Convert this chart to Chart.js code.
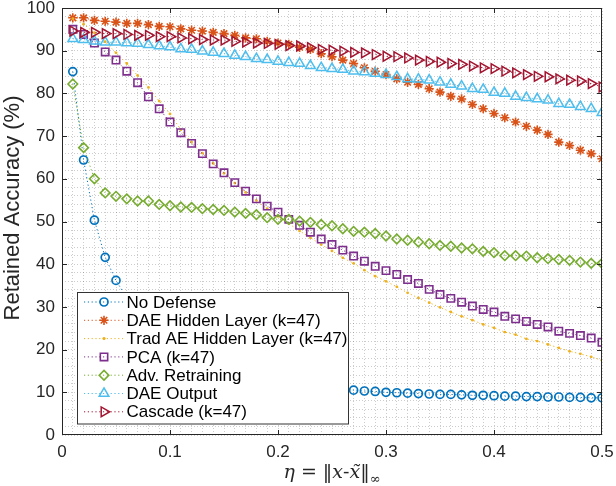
<!DOCTYPE html>
<html>
<head>
<meta charset="utf-8">
<title>Retained Accuracy</title>
<script src="https://cdn.jsdelivr.net/npm/chart.js@4.4.1/dist/chart.umd.min.js"></script>
<style>
    html, body { margin: 0; padding: 0; background: #ffffff; }
    #wrap { width: 616px; height: 486px; }
</style>
</head>
<body>
<div id="wrap"><canvas id="accuracy-chart" width="616" height="486"></canvas></div>
<script>
// perturbation size (x axis)
const etaValues = [0.01, 0.02, 0.03, 0.04, 0.05, 0.06, 0.07, 0.08, 0.09, 0.10,
                   0.11, 0.12, 0.13, 0.14, 0.15, 0.16, 0.17, 0.18, 0.19, 0.20,
                   0.21, 0.22, 0.23, 0.24, 0.25, 0.26, 0.27, 0.28, 0.29, 0.30,
                   0.31, 0.32, 0.33, 0.34, 0.35, 0.36, 0.37, 0.38, 0.39, 0.40,
                   0.41, 0.42, 0.43, 0.44, 0.45, 0.46, 0.47, 0.48, 0.49, 0.50];

// retained accuracy (%) per defense
const noDefense = [85.1, 64.4, 50.3, 41.6, 36.2, 32.1, 29.4, 26.8, 24.7, 22.8,
                   21.2, 19.5, 18.5, 17.3, 16.3, 15.5, 14.6, 13.8, 13.4, 13.0,
                   12.4, 12.1, 11.6, 11.4, 11.1, 10.8, 10.5, 10.3, 10.2, 10.0,
                   9.9, 9.8, 9.7, 9.6, 9.5, 9.5, 9.4, 9.3, 9.3, 9.2,
                   9.1, 9.1, 9.0, 9.0, 8.9, 8.9, 8.8, 8.8, 8.7, 8.7];
const daeHidden = [97.7, 97.7, 97.1, 96.9, 96.7, 96.4, 96.4, 96.1, 95.7, 95.6,
                   95.1, 94.8, 94.6, 94.3, 94.0, 93.6, 93.0, 92.8, 92.2, 91.8,
                   91.5, 90.8, 90.3, 89.3, 88.6, 87.8, 87.0, 86.0, 85.2, 84.4,
                   83.4, 82.6, 82.1, 81.1, 80.3, 79.3, 78.7, 77.4, 76.4, 75.3,
                   74.3, 73.3, 72.3, 71.4, 70.4, 68.6, 67.8, 66.7, 65.9, 64.7];
const tradAeHidden = [97.5, 96.2, 94.2, 92.1, 89.5, 87.0, 84.2, 81.4, 78.2, 75.2,
                      71.5, 68.6, 66.0, 63.6, 61.3, 59.0, 56.8, 54.9, 53.0, 51.2,
                      49.5, 47.8, 46.2, 44.6, 43.1, 41.5, 40.2, 38.6, 37.2, 36.0,
                      34.7, 33.3, 32.1, 31.0, 29.9, 28.8, 27.8, 26.9, 25.9, 25.1,
                      24.1, 23.5, 22.5, 22.0, 21.2, 20.4, 19.6, 19.0, 18.3, 17.5];
const pca = [95.0, 93.8, 91.8, 89.7, 87.8, 85.2, 82.5, 79.2, 76.4, 73.3,
             70.8, 68.3, 65.9, 63.5, 61.4, 59.1, 57.1, 55.3, 53.6, 52.2,
             50.5, 49.1, 47.5, 45.9, 44.6, 43.3, 41.9, 40.7, 39.5, 38.5,
             37.6, 36.4, 35.5, 34.1, 32.9, 32.0, 31.1, 30.2, 29.4, 28.8,
             27.8, 27.2, 26.6, 25.9, 25.3, 24.3, 23.8, 23.3, 22.7, 21.7];
const advRetraining = [82.2, 67.3, 60.0, 56.7, 55.9, 55.3, 54.8, 54.8, 54.0, 53.7,
                       53.4, 53.3, 53.0, 52.8, 52.6, 52.2, 51.9, 51.6, 50.9, 50.5,
                       50.5, 50.1, 49.8, 49.3, 49.0, 48.3, 47.7, 47.5, 47.2, 46.6,
                       45.9, 45.6, 45.2, 44.8, 44.4, 44.2, 43.8, 43.6, 43.0, 42.7,
                       42.0, 42.0, 41.9, 41.5, 41.3, 41.1, 40.9, 40.5, 40.2, 40.2];
const daeOutput = [92.8, 92.6, 92.2, 92.0, 92.0, 91.8, 91.7, 91.4, 91.1, 90.9,
                   90.4, 90.3, 89.9, 89.6, 89.3, 88.9, 88.6, 88.1, 87.9, 87.5,
                   87.2, 87.0, 86.5, 86.0, 85.8, 85.6, 85.2, 85.0, 84.7, 84.4,
                   83.9, 83.4, 83.3, 83.1, 82.6, 82.1, 81.7, 81.1, 80.9, 80.2,
                   80.0, 79.3, 79.0, 78.7, 78.4, 77.6, 77.4, 76.9, 76.4, 75.5];
const cascade = [94.6, 94.3, 94.3, 94.0, 94.0, 93.8, 93.6, 93.6, 93.3, 93.3,
                 93.0, 92.8, 92.6, 92.5, 92.5, 92.2, 92.0, 91.8, 91.7, 91.5,
                 91.2, 91.1, 90.7, 90.3, 90.1, 89.9, 89.6, 89.5, 89.1, 88.7,
                 88.6, 88.3, 87.8, 87.5, 87.3, 87.0, 86.8, 86.4, 86.0, 85.8,
                 85.2, 84.8, 84.4, 84.0, 83.9, 83.4, 83.1, 82.9, 82.3, 81.5];

const seriesLabels = ['No Defense', 'DAE Hidden Layer (k=47)', 'Trad AE Hidden Layer (k=47)',
                      'PCA (k=47)', 'Adv. Retraining', 'DAE Output', 'Cascade (k=47)'];

const FONT = '"Liberation Sans", Arial, Helvetica, sans-serif';
const AXIS_COLOR = '#262626';

function toPoints(values) {
    return etaValues.map((x, i) => ({ x: x, y: values[i] }));
}

function makeDataset(idx, values, color, marker) {
    return {
        label: seriesLabels[idx],
        data: toPoints(values),
        borderColor: color,
        backgroundColor: color,
        borderWidth: 1,
        borderDash: [1.2, 2.6],
        pointStyle: marker.style,
        pointRadius: marker.radius,
        pointRotation: marker.rotation || 0,
        pointBorderWidth: marker.width,
        pointBorderColor: color,
        pointBackgroundColor: marker.fill ? color : 'rgba(0,0,0,0)',
        tension: 0,
        fill: false,
        order: 6 - idx   // later series drawn on top, like the original
    };
}

const datasets = [
    makeDataset(0, noDefense, '#0072BD', { style: 'circle', radius: 4, width: 1.7 }),
    makeDataset(1, daeHidden, '#D95319', { style: 'star', radius: 4.6, width: 1.6 }),
    makeDataset(2, tradAeHidden, '#EDB120', { style: 'circle', radius: 1.4, width: 0, fill: true }),
    makeDataset(3, pca, '#7E2F8E', { style: 'rect', radius: 5.2, width: 1.6 }),
    makeDataset(4, advRetraining, '#77AC30', { style: 'rectRot', radius: 4.8, width: 1.6 }),
    makeDataset(5, daeOutput, '#4DBEEE', { style: 'triangle', radius: 5.6, width: 1.5 }),
    makeDataset(6, cascade, '#A2142F', { style: 'triangle', radius: 5.6, width: 1.5, rotation: 90 })
];

function isMajor(v, step) {
    const r = v / step;
    return Math.abs(r - Math.round(r)) < 1e-6;
}

// box around the axes with inward major tick marks
const framePlugin = {
    id: 'frame',
    afterDatasetsDraw(chart) {
        const { ctx, chartArea: a, scales } = chart;
        ctx.save();
        ctx.strokeStyle = AXIS_COLOR;
        ctx.lineWidth = 1;
        ctx.setLineDash([]);
        ctx.strokeRect(Math.round(a.left) + 0.5, Math.round(a.top) + 0.5,
                       Math.round(a.right - a.left) - 1, Math.round(a.bottom - a.top) - 1);
        ctx.beginPath();
        [0.1, 0.2, 0.3, 0.4].forEach(v => {
            const px = Math.round(scales.x.getPixelForValue(v)) + 0.5;
            ctx.moveTo(px, a.bottom); ctx.lineTo(px, a.bottom - 5);
            ctx.moveTo(px, a.top); ctx.lineTo(px, a.top + 5);
        });
        for (let v = 10; v < 100; v += 10) {
            const py = Math.round(scales.y.getPixelForValue(v)) + 0.5;
            ctx.moveTo(a.left, py); ctx.lineTo(a.left + 5, py);
            ctx.moveTo(a.right, py); ctx.lineTo(a.right - 5, py);
        }
        ctx.stroke();
        ctx.restore();
    }
};

// legend box in the lower left of the plot
const insideLegendPlugin = {
    id: 'insideLegend',
    afterDraw(chart) {
        const ctx = chart.ctx;
        const box = { x: 77.5, y: 292.5, w: 271, h: 131.5 };
        const rowY0 = 302, rowGap = 18.3;
        ctx.save();
        ctx.fillStyle = '#ffffff';
        ctx.fillRect(box.x, box.y, box.w, box.h);
        ctx.strokeStyle = '#333333';
        ctx.lineWidth = 1;
        ctx.setLineDash([]);
        ctx.strokeRect(box.x, box.y, box.w, box.h);
        ctx.font = '17px ' + FONT;
        ctx.textBaseline = 'middle';
        chart.data.datasets.forEach((ds, i) => {
            const y = rowY0 + i * rowGap;
            ctx.strokeStyle = ds.borderColor;
            ctx.lineWidth = 1;
            ctx.setLineDash(ds.borderDash);
            ctx.beginPath();
            ctx.moveTo(84, y); ctx.lineTo(123, y);
            ctx.stroke();
            ctx.setLineDash([]);
            ctx.strokeStyle = ds.pointBorderColor;
            ctx.fillStyle = ds.pointBackgroundColor;
            ctx.lineWidth = ds.pointBorderWidth;
            Chart.helpers.drawPoint(ctx, {
                pointStyle: ds.pointStyle,
                radius: ds.pointRadius,
                rotation: ds.pointRotation,
                borderWidth: ds.pointBorderWidth
            }, 104, y);
            if (ds.pointBorderWidth === 0) {
                ctx.fillStyle = ds.pointBorderColor;
                ctx.fill();
            }
            ctx.fillStyle = '#000000';
            ctx.fillText(ds.label, 126.5, y + 1);
        });
        ctx.restore();
    }
};

// axis titles: rotated y label, and eta = ||x - x~||_inf under the x axis
const axisTitlesPlugin = {
    id: 'axisTitles',
    afterDraw(chart) {
        const ctx = chart.ctx;
        const a = chart.chartArea;

        ctx.save();
        ctx.fillStyle = AXIS_COLOR;
        ctx.font = '22px ' + FONT;
        ctx.textAlign = 'center';
        ctx.textBaseline = 'alphabetic';
        ctx.translate(19, 208);
        ctx.rotate(-Math.PI / 2);
        ctx.fillText('Retained Accuracy (%)', 0, 0);
        ctx.restore();

        const serif = '"DejaVu Serif", "Liberation Serif", serif';
        const parts = [
            { t: '\u03B7', f: 'italic 19px ' + serif, dy: 0 },
            { t: ' = ', f: '19px ' + serif, dy: 0 },
            { t: '\u2016', f: '19px ' + serif, dy: 0 },
            { t: 'x', f: 'italic 19px ' + serif, dy: 0 },
            { t: '-', f: '19px ' + serif, dy: 0 },
            { t: 'x\u0303', f: 'italic 19px ' + serif, dy: 0 },
            { t: '\u2016', f: '19px ' + serif, dy: 0 },
            { t: '\u221E', f: '13px ' + serif, dy: 5 }
        ];
        ctx.save();
        ctx.fillStyle = AXIS_COLOR;
        ctx.textBaseline = 'alphabetic';
        let total = 0;
        parts.forEach(p => { ctx.font = p.f; p.w = ctx.measureText(p.t).width; total += p.w; });
        let x = (a.left + a.right) / 2 - total / 2;
        const y = 478;
        parts.forEach(p => {
            ctx.font = p.f;
            ctx.fillText(p.t, x, y + p.dy);
            x += p.w;
        });
        ctx.restore();
    }
};

const gridColor = 'rgba(0, 0, 0, 0.2)';

new Chart(document.getElementById('accuracy-chart').getContext('2d'), {
    type: 'line',
    data: { datasets: datasets },
    options: {
        responsive: false,
        animation: false,
        layout: { padding: { left: 0, right: 14, top: 8, bottom: 0 } },
        plugins: {
            legend: { display: false },
            tooltip: { enabled: false }
        },
        scales: {
            x: {
                type: 'linear',
                min: 0,
                max: 0.5,
                border: { display: false, dash: [1, 2] },
                grid: { color: gridColor, lineWidth: 1, drawTicks: false },
                ticks: {
                    stepSize: 0.01,
                    maxTicksLimit: 100,
                    autoSkip: false,
                    maxRotation: 0,
                    padding: 7,
                    color: AXIS_COLOR,
                    font: { family: FONT, size: 17 },
                    callback: v => isMajor(v, 0.1) ? String(Math.round(v * 10) / 10) : ''
                },
                afterFit: scale => {
                    scale.height = 51;
                    scale.paddingLeft = 0;
                    scale.paddingRight = 0;
                }
            },
            y: {
                min: 0,
                max: 100,
                border: { display: false, dash: [1, 2] },
                grid: { color: gridColor, lineWidth: 1, drawTicks: false },
                ticks: {
                    stepSize: 2,
                    maxTicksLimit: 100,
                    autoSkip: false,
                    padding: 7,
                    color: AXIS_COLOR,
                    font: { family: FONT, size: 17 },
                    callback: v => isMajor(v, 10) ? String(v) : ''
                },
                afterFit: scale => {
                    scale.width = 62;
                    scale.paddingTop = 0;
                    scale.paddingBottom = 0;
                }
            }
        }
    },
    plugins: [framePlugin, insideLegendPlugin, axisTitlesPlugin]
});
</script>
</body>
</html>
